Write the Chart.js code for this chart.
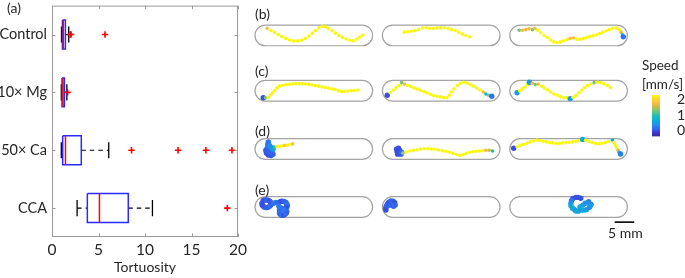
<!DOCTYPE html>
<html><head><meta charset="utf-8">
<script src="https://cdn.jsdelivr.net/npm/chart.js@4"></script>
<style>
html,body{margin:0;padding:0;background:#fff;}
body{width:685px;height:278px;position:relative;overflow:hidden;font-family:Lato,sans-serif;color:#262626;}
canvas{position:absolute;}
.t{position:absolute;font-size:14px;line-height:14px;white-space:nowrap;}
</style></head><body>
<canvas id="box" width="260" height="278" style="left:0;top:0"></canvas>
<canvas id="trk" width="400" height="278" style="left:251px;top:0"></canvas>
<canvas id="cb" width="33" height="52" style="left:652px;top:90px"></canvas>
<div class="t" style="left:7px;top:1px">(a)</div>
<div class="t" style="left:255px;top:7px">(b)</div>
<div class="t" style="left:255px;top:64px">(c)</div>
<div class="t" style="left:255px;top:124px">(d)</div>
<div class="t" style="left:255px;top:183px">(e)</div>
<div class="t" style="left:642px;top:58px;font-size:13.5px">Speed</div>
<div class="t" style="left:642px;top:77px;font-size:13.5px">[mm/s]</div>
<div class="t" style="left:608px;top:226px">5 mm</div>
<script>
// ---------- (a) box plot data ----------
const categories = ['Control', '10\u00d7 Mg', '50\u00d7 Ca', 'CCA'];
const whiskerLow  = [1.02, 1.0, 1.0, 2.7];
const q1          = [1.12, 1.08, 1.15, 3.8];
const median      = [1.22, 1.18, 1.45, 5.1];
const q3          = [1.44, 1.33, 3.15, 8.2];
const whiskerHigh = [1.8, 1.6, 6.1, 10.8];
const outliers    = [[1.95, 2.05, 5.7], [1.68], [8.55, 13.55, 16.55, 19.35], [18.85]];
const tortTicks   = [0, 5, 10, 15, 20];

// ---------- (b)-(e) trajectories: [x mm, y mm, speed mm/s] ----------
const trackB1 = [[3.1,4.5,1.8],[4.1,3.9,2.3],[5.0,3.4,2.3],[5.9,2.9,2.3],[6.8,2.4,2.3],[7.8,1.9,2.3],[8.8,1.5,2.3],[9.8,1.25,2.3],[10.9,1.25,2.3],[11.9,1.4,2.3],[12.8,1.9,2.3],[13.75,2.5,2.3],[14.6,3.2,2.3],[15.4,3.9,2.3],[16.25,4.65,2.3],[17.2,5.0,2.3],[18.0,4.85,2.3],[18.8,4.4,2.3],[19.7,3.85,2.3],[20.5,3.25,2.3],[21.4,2.65,2.3],[22.3,2.15,2.3],[23.25,1.75,2.3],[24.2,1.4,2.3],[25.1,1.3,2.3],[26.0,1.75,2.3],[26.75,2.25,2.3],[27.5,2.75,2.3]];
const trackB2 = [[5.6,3.5,2.3],[6.5,3.6,2.3],[7.4,3.75,2.3],[8.3,3.9,2.3],[9.25,4.15,2.3],[10.25,4.6,2.3],[11.2,4.65,2.3],[12.1,4.5,2.3],[13.0,4.5,2.3],[13.9,4.6,2.3],[14.8,4.6,2.3],[15.75,4.65,2.3],[16.75,4.5,2.3],[17.7,4.15,2.3],[18.6,3.85,2.3],[19.5,3.4,2.3],[20.4,3.0,2.3],[21.3,2.65,2.3],[22.3,2.25,2.3]];
const trackB3 = [[2.4,4.0,1.3],[3.25,4.0,1.75],[4.1,4.15,1.75],[4.9,4.4,1.8],[5.75,4.15,1.35],[6.4,4.5,1.75],[7.1,4.0,2.3],[7.9,3.35,2.3],[8.75,2.65,2.3],[9.6,2.1,2.3],[10.4,1.5,2.3],[11.25,1.0,2.3],[12.1,0.85,2.3],[12.9,1.0,2.3],[13.75,1.25,2.3],[14.6,1.6,2.3],[15.4,1.9,1.85],[16.25,2.0,1.85],[17.1,1.65,2.3],[17.9,1.65,2.3],[18.75,1.9,2.3],[19.6,2.15,2.3],[20.4,2.35,2.3],[21.25,2.6,2.3],[22.1,2.85,2.3],[22.9,3.15,2.3],[23.75,3.5,2.3],[24.6,3.85,2.3],[25.4,4.15,2.3],[26.25,4.5,2.3],[27.1,4.6,2.3],[27.9,4.15,2.3],[28.4,3.5,1.7],[28.75,2.85,0.8],[28.95,2.3,0.2]];
const trackC1 = [[2.1,0.85,0.0],[2.65,0.85,1.3],[3.4,1.0,2.3],[4.0,1.6,2.3],[4.5,2.15,2.3],[5.0,2.75,2.3],[5.6,3.4,2.3],[6.25,3.85,2.3],[7.1,4.1,2.3],[7.9,4.25,2.3],[8.75,4.35,2.3],[9.6,4.4,2.3],[10.4,4.5,2.3],[11.25,4.5,2.3],[12.1,4.5,2.3],[12.9,4.4,2.3],[13.75,4.35,2.3],[14.6,4.15,2.3],[15.4,4.0,2.3],[16.25,3.85,2.3],[17.1,3.65,2.3],[17.9,3.5,2.3],[18.75,3.35,2.3],[19.6,3.15,2.3],[20.4,3.0,2.3],[21.25,2.65,2.3],[22.1,2.5,2.3],[22.9,2.5,2.3],[23.75,2.6,2.3],[24.6,2.65,2.3],[25.4,2.75,2.3],[26.25,2.85,2.3]];
const trackC2 = [[1.25,1.5,0.0],[2.0,2.15,2.3],[2.75,2.85,2.3],[3.5,3.4,2.3],[4.25,4.0,2.3],[4.9,4.75,1.3],[5.6,4.4,1.75],[6.4,4.1,2.3],[7.25,3.75,2.3],[8.1,3.4,2.3],[8.9,3.1,2.3],[9.75,2.75,2.3],[10.6,2.4,2.3],[11.4,2.1,2.3],[12.25,1.75,2.3],[13.1,1.4,2.3],[13.9,1.25,2.3],[14.75,1.1,2.3],[15.6,0.9,2.3],[16.4,0.85,2.3],[17.1,1.5,2.3],[17.6,2.35,2.3],[18.25,3.15,2.3],[19.1,4.0,2.3],[19.9,4.6,2.3],[20.75,4.85,2.3],[21.6,4.65,2.3],[22.4,4.25,2.3],[23.25,3.85,2.3],[24.1,3.35,2.3],[24.9,2.85,2.3],[25.75,2.35,1.75],[26.4,1.85,0.8],[27.1,1.5,1.3],[27.9,1.25,0.2]];
const trackC3 = [[1.85,2.15,0.5],[2.5,2.65,2.3],[3.15,3.15,2.3],[3.85,3.65,2.3],[4.5,4.25,2.3],[5.0,4.85,0.5],[5.75,4.6,1.75],[6.5,4.25,1.3],[7.25,4.4,1.75],[8.1,3.85,2.3],[8.85,3.35,2.3],[9.6,2.85,2.3],[10.4,2.35,2.3],[11.25,1.85,2.3],[12.1,1.5,2.3],[12.9,1.15,2.3],[13.75,0.9,2.3],[14.6,0.85,2.3],[15.4,0.65,0.5],[16.15,1.0,2.3],[16.9,1.5,2.3],[17.65,2.15,2.3],[18.4,2.85,2.3],[19.1,3.5,2.3],[19.85,4.0,2.3],[20.65,4.4,2.3],[21.5,4.75,1.3],[22.35,4.85,2.3],[23.15,4.75,2.3],[24.0,4.5,2.3],[24.85,4.1,2.3],[25.65,3.5,2.3]];
const trackD1 = [[3.4,4.5,0.2],[3.25,3.85,0.2],[3.6,3.35,0.3],[3.1,2.85,0.2],[2.75,2.35,0.1],[2.9,1.65,0.0],[3.4,1.15,0.0],[4.1,1.0,0.0],[4.6,1.35,0.1],[4.4,2.0,0.2],[4.0,2.5,0.3],[4.25,3.0,0.4],[3.75,3.5,0.4],[3.25,2.0,0.1],[3.9,1.65,0.1],[4.6,2.65,0.5],[5.0,3.15,0.9],[5.6,3.25,2.3],[6.25,3.4,2.3],[6.9,3.5,2.3],[7.6,3.6,1.85],[8.25,3.65,2.3],[8.9,3.85,2.3],[9.6,4.0,1.85]];
const trackD2 = [[3.6,2.65,0.0],[4.1,2.85,0.0],[4.4,2.35,0.0],[3.75,2.0,0.0],[4.25,1.5,0.0],[4.75,1.35,0.1],[3.9,1.35,0.0],[4.9,1.85,0.2],[5.2,1.65,1.5],[6.1,1.9,2.3],[7.0,2.15,2.3],[7.9,2.35,2.3],[8.8,2.5,2.3],[9.75,2.65,2.3],[10.65,2.75,2.3],[11.6,2.75,2.3],[12.5,2.65,2.3],[13.4,2.6,2.3],[14.3,2.4,2.3],[15.25,2.25,2.3],[16.15,2.1,2.3],[17.1,1.85,2.3],[18.0,1.5,2.3],[18.9,1.25,2.3],[19.75,1.0,2.3],[20.6,1.25,2.3],[21.4,1.6,2.3],[22.25,1.85,2.3],[23.1,2.0,2.3],[23.9,2.1,2.3],[24.75,2.15,2.3],[25.6,2.25,2.3],[26.4,2.35,1.8],[27.25,2.35,1.6],[28.1,2.15,0.9]];
const trackD3 = [[1.0,2.85,0.0],[1.85,3.25,2.3],[2.65,3.6,2.3],[3.5,3.85,2.3],[4.35,4.15,2.3],[5.15,4.5,2.3],[6.0,4.75,2.3],[6.85,5.0,2.3],[7.65,4.85,2.3],[8.5,4.65,2.3],[9.35,4.5,2.3],[10.15,4.35,2.3],[11.0,4.25,2.3],[11.85,4.15,2.3],[12.65,4.15,2.3],[13.5,4.25,2.3],[14.35,4.35,2.3],[15.15,4.4,2.3],[16.0,4.5,2.3],[16.85,4.65,2.3],[17.65,4.85,2.3],[18.6,5.15,0.6],[19.35,4.9,2.3],[20.15,4.6,2.3],[21.0,4.35,2.3],[21.85,4.1,2.3],[22.65,4.0,2.3],[23.5,4.15,2.3],[24.35,4.35,2.3],[25.15,4.6,2.3],[26.15,5.0,0.7],[26.6,4.35,2.3],[26.9,3.65,2.3],[27.25,3.0,2.3],[27.6,2.35,1.7],[27.9,1.85,0.9],[28.25,1.4,0.3]];
const trackE1 = [[1.75,3.65,0.1],[2.1,4.35,0.0],[2.5,4.5,0.0],[2.9,4.5,0.1],[3.35,4.4,0.1],[3.75,4.15,0.0],[4.0,3.85,0.1],[4.1,3.5,0.1],[4.0,3.15,0.0],[3.75,2.85,0.1],[3.35,2.6,0.2],[2.9,2.5,0.1],[2.4,2.6,0.1],[2.1,2.85,0.1],[1.85,3.15,0.0],[4.75,3.65,0.2],[5.4,3.85,0.2],[6.1,3.85,0.1],[6.5,4.1,0.1],[6.9,4.15,0.0],[7.4,4.1,0.1],[7.9,3.85,0.1],[8.15,3.4,0.2],[8.25,3.0,0.2],[8.1,2.6,0.1],[7.75,2.35,0.0],[7.25,2.25,0.1],[6.75,2.35,0.2],[6.1,2.85,0.2],[6.25,2.0,0.3],[6.4,1.65,0.2],[6.25,1.35,0.1],[6.25,1.0,0.2],[6.6,0.65,0.1],[6.9,0.5,0.2],[7.35,0.6,0.0],[7.75,0.85,0.1],[8.0,1.15,0.2],[8.1,1.5,0.1],[7.4,2.0,0.2]];
const trackE2 = [[0.85,2.35,0.0],[1.0,2.85,0.1],[1.25,3.4,0.1],[1.65,3.9,0.0],[2.15,4.25,0.1],[2.75,4.15,0.1],[3.15,3.75,0.0],[3.25,3.15,0.1],[2.85,2.85,0.1],[2.25,3.1,0.2],[1.85,3.15,0.1],[0.9,1.9,0.0]];
const trackE3 = [[18.1,4.9,0.0],[17.4,5.15,0.0],[16.85,5.15,0.0],[16.1,4.85,0.0],[15.75,4.35,0.2],[15.6,3.65,0.4],[15.6,3.0,0.6],[16.0,2.35,0.6],[16.85,1.65,0.6],[17.5,1.6,0.6],[18.15,1.85,0.5],[18.9,1.85,0.6],[19.6,2.0,0.5],[20.35,2.6,0.4],[20.75,3.35,0.4],[20.1,4.0,0.3],[19.25,3.65,0.4],[18.65,3.15,0.5],[17.9,2.65,0.6],[16.5,2.0,0.55],[20.5,3.0,0.45]];

// ---------- colour bar ----------
const speedTicks = [0, 1, 2];
const CMIN = -0.37, CMAX = 2.32;

// ---------- layout (not data) ----------
const COL_X = [0, 32.5, 65];              // capsule left edges, mm
const ROW_Y = [58.75, 44.5, 29.5, 14.58]; // capsule bottoms, mm
const CAP_W = 30, CAP_H = 5.33;
const panels = [
  [trackB1,0,0],[trackB2,1,0],[trackB3,2,0],
  [trackC1,0,1],[trackC2,1,1],[trackC3,2,1],
  [trackD1,0,2],[trackD2,1,2],[trackD3,2,2],
  [trackE1,0,3],[trackE2,1,3],[trackE3,2,3]
];

const PARULA = [
  [0.00,[55,35,150]],[0.10,[60,58,212]],[0.20,[48,110,240]],[0.30,[30,150,230]],
  [0.40,[10,178,208]],[0.50,[33,191,178]],[0.60,[100,199,130]],[0.70,[184,191,82]],
  [0.80,[252,186,64]],[0.90,[248,217,41]],[1.00,[249,251,14]]
];
function parula(t){
  t = Math.max(0, Math.min(1, t));
  for (let i = 1; i < PARULA.length; i++) {
    if (t <= PARULA[i][0]) {
      const [t0,c0] = PARULA[i-1], [t1,c1] = PARULA[i];
      const f = (t - t0) / (t1 - t0);
      const c = c0.map((v,k)=>Math.round(v + f*(c1[k]-v)));
      return `rgb(${c[0]},${c[1]},${c[2]})`;
    }
  }
  return 'rgb(249,251,14)';
}
const speedColor = s => parula((s - CMIN) / (CMAX - CMIN));

Chart.defaults.font.family = 'Lato';
Chart.defaults.color = '#262626';

const TEXT = '#262626', FRAME = '#9a9a9a', BLUE = '#2a2aff', RED = '#ff0000';

// ---------- (a) box chart ----------
const H = 0.25, CAP = 0.14;
const line = (pts, extra) => Object.assign({data: pts, showLine: true, pointRadius: 0, fill: false, tension: 0, borderJoinStyle: 'miter'}, extra);
const boxSets = [];
categories.forEach((c, i) => { const y = i + 1;
  boxSets.push(line([{x: median[i], y: y - H}, {x: median[i], y: y + H}], {borderColor: RED, borderWidth: 1.5}));
});
categories.forEach((c, i) => { const y = i + 1;
  boxSets.push(line([{x:q1[i],y:y-H},{x:q3[i],y:y-H},{x:q3[i],y:y+H},{x:q1[i],y:y+H},{x:q1[i],y:y-H}], {borderColor: BLUE, borderWidth: 1.5}));
  boxSets.push(line([{x: whiskerLow[i], y}, {x: q1[i], y}], {borderColor: '#000', borderWidth: 1.2, borderDash: [4.5, 4]}));
  boxSets.push(line([{x: q3[i], y}, {x: whiskerHigh[i], y}], {borderColor: '#000', borderWidth: 1.2, borderDash: [4.5, 4]}));
  boxSets.push(line([{x: whiskerLow[i], y: y - CAP}, {x: whiskerLow[i], y: y + CAP}], {borderColor: '#000', borderWidth: 1.3}));
  boxSets.push(line([{x: whiskerHigh[i], y: y - CAP}, {x: whiskerHigh[i], y: y + CAP}], {borderColor: '#000', borderWidth: 1.3}));
});
boxSets.unshift({
  data: outliers.flatMap((arr, i) => arr.map(v => ({x: v, y: i + 1}))),
  showLine: false, pointStyle: 'cross', pointRadius: 3.2, pointBorderWidth: 1.6,
  borderColor: RED, backgroundColor: RED
});

const frameTicks = {
  id: 'frameTicks',
  afterDraw(chart) {
    const {ctx, chartArea: a, scales: {x, y}} = chart;
    ctx.save();
    ctx.strokeStyle = FRAME; ctx.lineWidth = 1;
    ctx.strokeRect(a.left + 0.5, a.top + 0.5, a.right - a.left - 1, a.bottom - a.top - 1);
    const L = 3.5;
    ctx.beginPath();
    x.ticks.forEach(t => { const p = Math.round(x.getPixelForValue(t.value)) + 0.5;
      ctx.moveTo(p, a.bottom); ctx.lineTo(p, a.bottom - L); ctx.moveTo(p, a.top); ctx.lineTo(p, a.top + L); });
    y.ticks.forEach(t => { const p = Math.round(y.getPixelForValue(t.value)) + 0.5;
      ctx.moveTo(a.left, p); ctx.lineTo(a.left + L, p); ctx.moveTo(a.right, p); ctx.lineTo(a.right - L, p); });
    ctx.stroke();
    ctx.restore();
  }
};

new Chart(document.getElementById('box'), {
  type: 'scatter',
  data: {datasets: boxSets},
  options: {
    responsive: false, animation: false, devicePixelRatio: 1,
    layout: {padding: {top: 2, right: 22, left: 0, bottom: 0}},
    plugins: {legend: {display: false}, tooltip: {enabled: false}},
    scales: {
      x: {type: 'linear', min: 0, max: 20,
          afterBuildTicks: s => { s.ticks = tortTicks.map(v => ({value: v})); },
          afterFit: s => { s.height = 41; s.paddingLeft = 0; s.paddingRight = 0; },
          grid: {display: false, drawTicks: false}, border: {display: false},
          ticks: {font: {size: 15.5}, color: TEXT, padding: 4},
          title: {display: true, text: 'Tortuosity', font: {size: 14}, color: TEXT, padding: {top: 0, bottom: 2}}},
      y: {type: 'linear', min: 0.5, max: 4.5, reverse: true,
          afterBuildTicks: s => { s.ticks = categories.map((c, i) => ({value: i + 1})); },
          afterFit: s => { s.width = 52; s.paddingTop = 0; s.paddingBottom = 0; },
          grid: {display: false, drawTicks: false}, border: {display: false},
          ticks: {font: {size: 14.5}, color: TEXT, padding: 5, callback: v => categories[v - 1]}}
    }
  },
  plugins: [frameTicks]
});

// ---------- (b)-(e) trajectory chart ----------
const capsules = {
  id: 'capsules',
  beforeDatasetsDraw(chart) {
    const {ctx, scales: {x, y}} = chart;
    ctx.save();
    ctx.strokeStyle = '#a4a4a4'; ctx.lineWidth = 1.2;
    ROW_Y.forEach(ry => COL_X.forEach(cx => {
      const l = x.getPixelForValue(cx), r = x.getPixelForValue(cx + CAP_W);
      const t = y.getPixelForValue(ry + CAP_H), b = y.getPixelForValue(ry);
      ctx.beginPath(); ctx.roundRect(l, t, r - l, b - t, (b - t) / 2); ctx.stroke();
    }));
    // 5 mm scale bar
    const sx = x.getPixelForValue(91.75), ex = x.getPixelForValue(96.75), sy = y.getPixelForValue(13.35);
    ctx.strokeStyle = '#000'; ctx.lineWidth = 1.6;
    ctx.beginPath(); ctx.moveTo(sx, sy); ctx.lineTo(ex, sy); ctx.stroke();
    ctx.restore();
  }
};

const trkSets = panels.map(([trk, c, r]) => ({
  data: trk.map(p => ({x: COL_X[c] + p[0], y: ROW_Y[r] + p[1], s: p[2]})),
  showLine: false,
  pointRadius: ctx => (ctx.raw && ctx.raw.s < 0.7) ? 2.7 : 1.8,
  pointBorderWidth: 0,
  pointBackgroundColor: ctx => ctx.raw ? speedColor(ctx.raw.s) : '#000',
  pointBorderColor: 'rgba(0,0,0,0)'
}));

new Chart(document.getElementById('trk'), {
  type: 'scatter',
  data: {datasets: trkSets},
  options: {
    responsive: false, animation: false, devicePixelRatio: 1,
    layout: {padding: 0},
    plugins: {legend: {display: false}, tooltip: {enabled: false}},
    scales: {
      x: {type: 'linear', min: 0, max: 100, display: false},
      y: {type: 'linear', min: 0, max: 69.5, display: false}
    }
  },
  plugins: [capsules]
});

// ---------- colour bar ----------
new Chart(document.getElementById('cb'), {
  type: 'bar',
  data: {labels: ['Speed'], datasets: [{
    data: [[CMIN, CMAX]], barPercentage: 1, categoryPercentage: 1, borderWidth: 0,
    backgroundColor: ctx => {
      const {chart} = ctx; const a = chart.chartArea; if (!a) return '#ccc';
      const g = chart.ctx.createLinearGradient(0, a.bottom, 0, a.top);
      PARULA.forEach(([t, c]) => g.addColorStop(t, `rgb(${c[0]},${c[1]},${c[2]})`));
      return g;
    }
  }]},
  options: {
    responsive: false, animation: false, devicePixelRatio: 1,
    layout: {padding: {top: 5, bottom: 5.5, left: 0, right: 0}},
    plugins: {legend: {display: false}, tooltip: {enabled: false}},
    scales: {
      x: {display: false},
      y: {position: 'right', min: CMIN, max: CMAX,
          afterBuildTicks: s => { s.ticks = speedTicks.map(v => ({value: v})); },
          afterFit: s => { s.width = 25; s.paddingTop = 0; s.paddingBottom = 0; },
          grid: {display: false}, border: {display: false},
          ticks: {font: {size: 14}, color: TEXT, padding: 9, autoSkip: false}}
    }
  }
});
</script>
</body></html>
